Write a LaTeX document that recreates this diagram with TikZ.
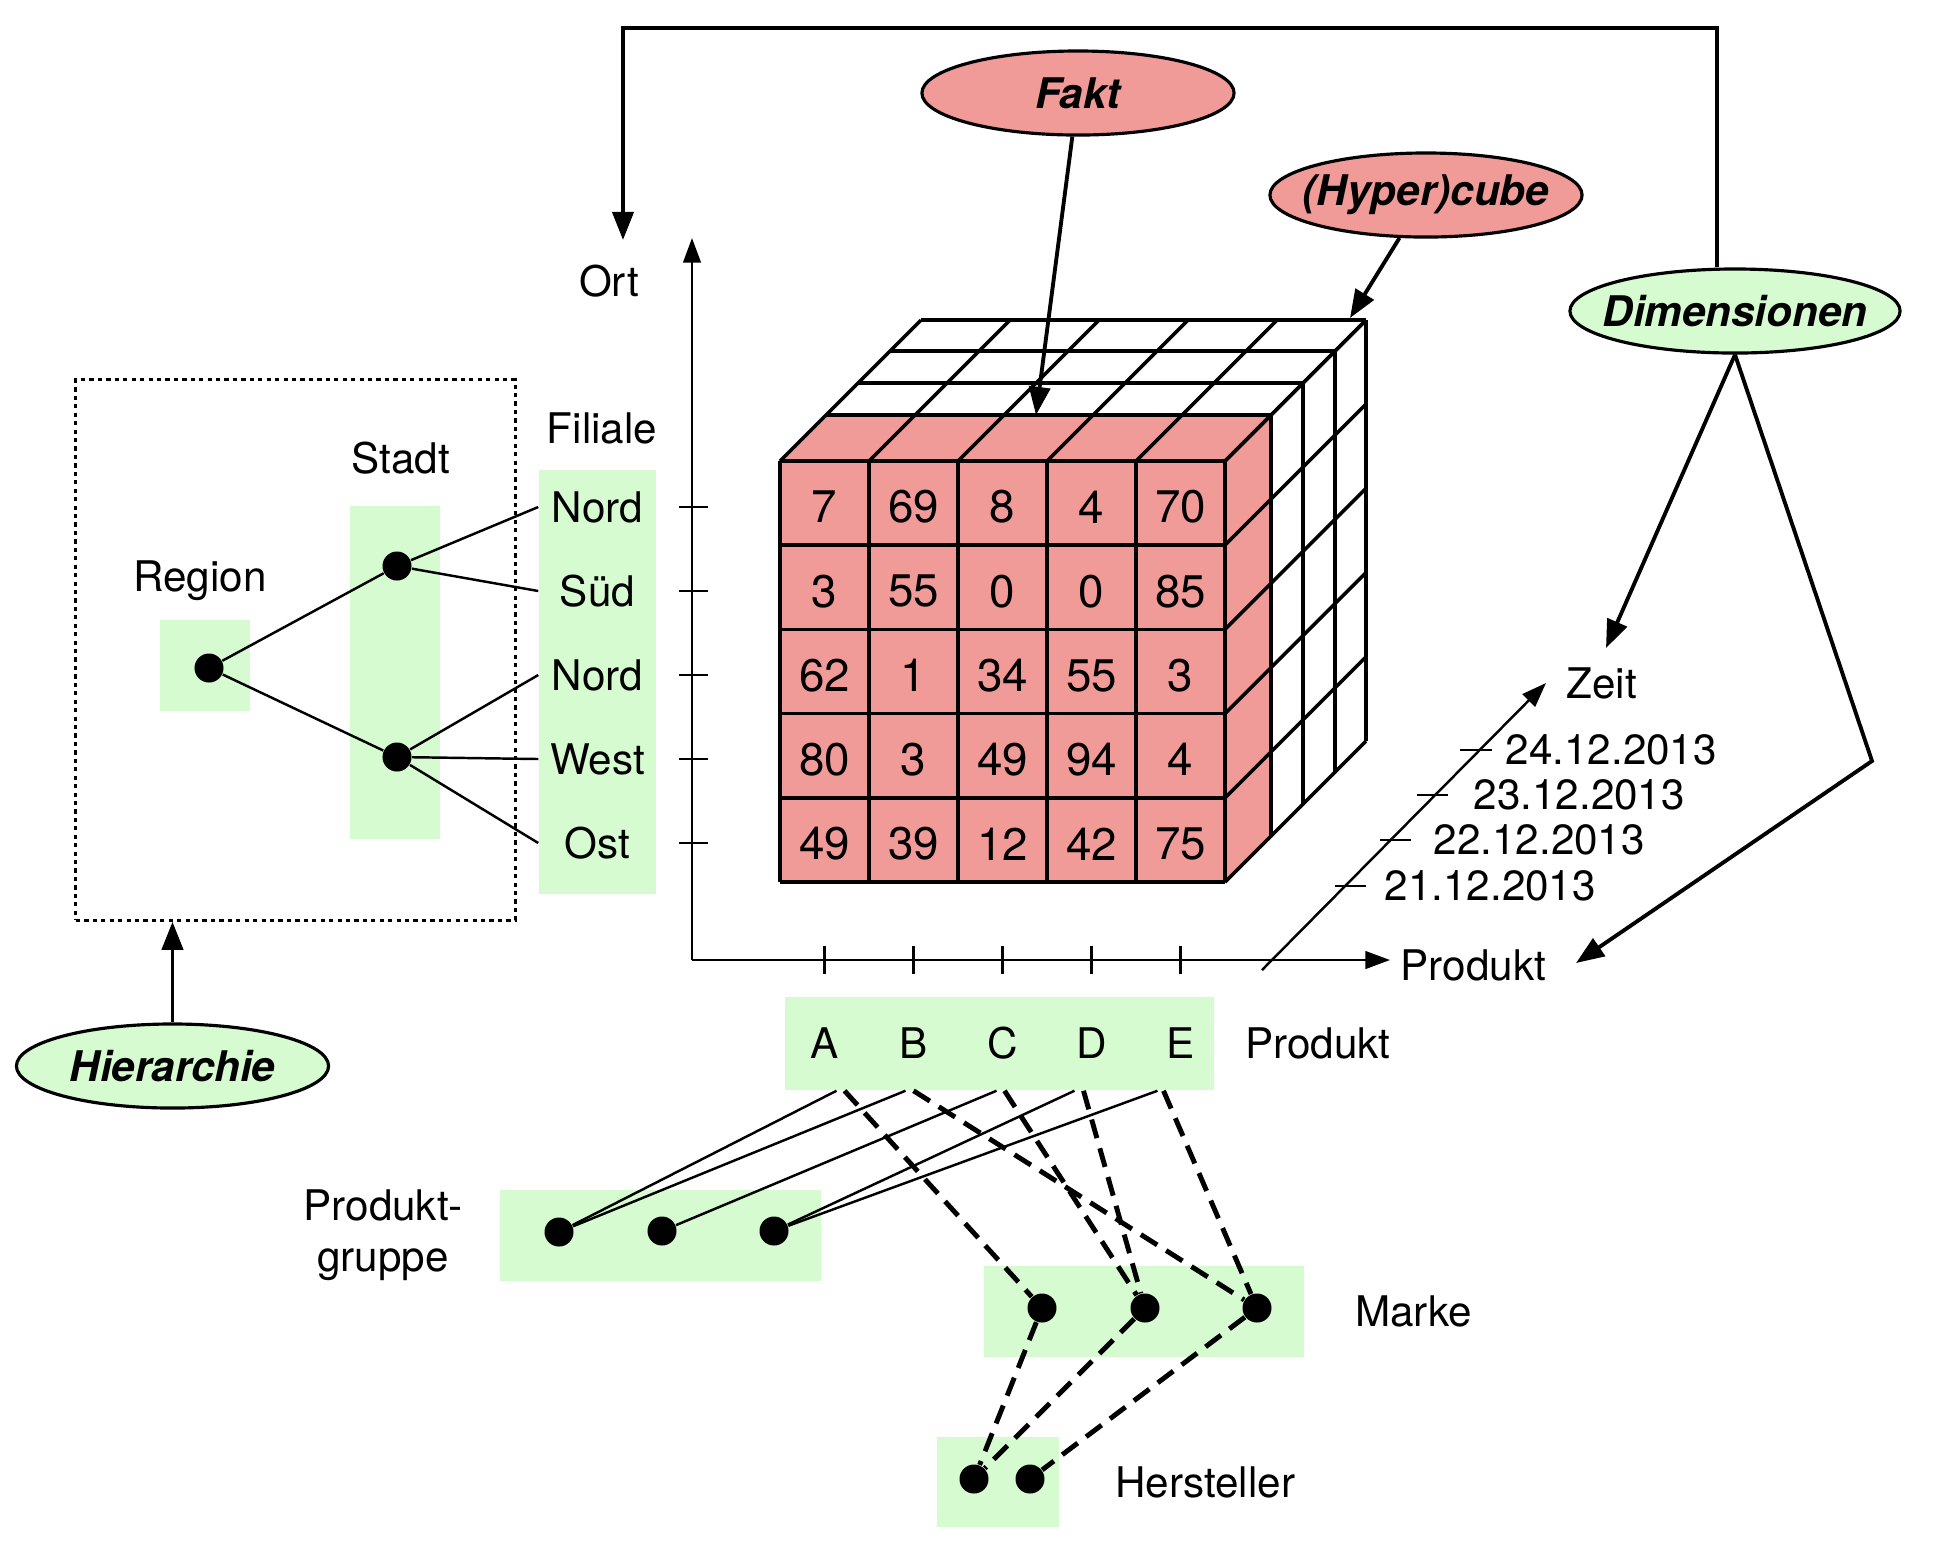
\documentclass[tikz,border=0pt]{standalone}
\usepackage{fontspec}
\setmainfont{TeX Gyre Heros}
\usepackage{tikz}
\usetikzlibrary{shapes.geometric,arrows.meta,positioning}

\definecolor{faktrot}{RGB}{241,155,153}
\definecolor{dimgruen}{RGB}{214,251,208}

\begin{document}
\begin{tikzpicture}[x=0.01cm, y=-0.01cm,
  font=\fontsize{12}{14.5}\selectfont,
  concept/.style={ellipse, draw, line width=0.9pt, inner xsep=-0.2cm, inner ysep=0pt, minimum width=3.12cm, minimum height=0.84cm, font=\fontsize{12}{14.5}\selectfont\bfseries\itshape},
  fakt/.style={concept, fill=faktrot},
  dimension/.style={concept, fill=dimgruen},
  greenbox/.style={rectangle, fill=dimgruen, inner sep=0pt},
  dot/.style={circle, fill, inner sep=0pt, minimum size=0.29cm},
  filiale/.style={rectangle, minimum width=1.17cm, inner sep=0pt},
  buchstabe/.style={rectangle, minimum height=0.93cm, inner sep=0pt},
  cellnum/.style={font=\fontsize{13}{15}\selectfont},
  datum/.style={anchor=west, inner sep=0pt},
  arrow/.style={-{Triangle[length=8pt,width=6pt]}, line width=1.1pt},
  axis/.style={-{Triangle[length=7pt,width=5pt]}, line width=0.7pt},
  cubeline/.style={line width=1pt},
  thinline/.style={line width=0.7pt},
  dashline/.style={line width=1.4pt, dash pattern=on 5.5pt off 3pt}]

\useasboundingbox (0,0) rectangle (1960,1544);

% green boxes
\node[greenbox, minimum width=0.9cm, minimum height=0.91cm] (regionbox) at (205,665.5) {};
\node[greenbox, minimum width=0.9cm, minimum height=3.33cm] (stadtbox) at (395,672.5) {};
\node[greenbox, minimum width=1.17cm, minimum height=4.24cm] (filialbox) at (597.5,682) {};
\node[greenbox, minimum width=4.29cm, minimum height=0.93cm] (produktbox) at (999.5,1043.5) {};
\node[greenbox, minimum width=3.21cm, minimum height=0.91cm] (gruppebox) at (660.5,1235.5) {};
\node[greenbox, minimum width=3.2cm, minimum height=0.91cm] (markebox) at (1144,1311.5) {};
\node[greenbox, minimum width=1.22cm, minimum height=0.9cm] (herstellerbox) at (998,1482) {};

% cube
\fill[faktrot] (780,882) -- (780,461) -- (826,415) -- (1271,415) -- (1271,836) -- (1225,882) -- cycle;
\foreach \x in {780,869,958,1047,1136,1225} {
  \draw[cubeline] (\x,461) -- (\x,882);
  \draw[cubeline] (\x,461) -- ++(141,-141);
}
\foreach \y in {461,545.2,629.4,713.6,797.8,882} {
  \draw[cubeline] (780,\y) -- (1225,\y);
  \draw[cubeline] (1225,\y) -- ++(141,-141);
}
\foreach \d in {46,78,110,141} {
  \draw[cubeline] (780+\d,461-\d) -- (1225+\d,461-\d);
  \draw[cubeline] (1225+\d,461-\d) -- (1225+\d,882-\d);
}
\foreach \zeile [count=\j] in {{7,69,8,4,70},{3,55,0,0,85},{62,1,34,55,3},{80,3,49,94,4},{49,39,12,42,75}} {
  \foreach \wert [count=\i] in \zeile
    \node[cellnum] (c\j\i) at ({780+89*(\i-0.5)},{465+84.2*(\j-0.5)}) {\wert};
}

% axes
\coordinate (origin) at (692,960);
\coordinate (ortende) at (692,238);
\coordinate (produktende) at (1390,960);
\coordinate (zeitstart) at (1262,970);
\coordinate (zeitende) at (1546,683);
\draw[axis] (origin) -- (ortende);
\draw[axis] (origin) -- (produktende);
\draw[axis] (zeitstart) -- (zeitende);
\foreach \y in {507,591,675,759,843} \draw[thinline] (679,\y) -- (708,\y);
\foreach \x in {824.5,913.5,1002.5,1091.5,1180.5} \draw[thinline] (\x,946) -- (\x,974);

\node (ort) at (609,281) {Ort};
\node[right=0.1cm of produktende, yshift=-0.05cm, inner sep=0pt] (produktachse) {Produkt};
\node[right=0.2cm of zeitende, inner sep=0pt] (zeit) {Zeit};

\node[datum] (d24) at (1505,750) {24.12.2013};
\node[datum] (d23) at (1473,795) {23.12.2013};
\node[datum] (d22) at (1433,840) {22.12.2013};
\node[datum] (d21) at (1384,886) {21.12.2013};
\draw[thinline] (1460,750) -- (1492,750);
\draw[thinline] (1417,795) -- (1448,795);
\draw[thinline] (1380,840) -- (1411,840);
\draw[thinline] (1335,886) -- (1366,886);

% concepts
\node[fakt] (fakt) at (1078,93) {Fakt};
\node[fakt] (hypercube) at (1426,195) {(Hyper)cube};
\node[dimension, minimum width=3.3cm] (dimensionen) at (1735,311) {Dimensionen};
\node[dimension] (hierarchie) at (172.5,1066) {Hierarchie};

\coordinate (faktziel) at (1036,415);
\coordinate (cubeziel) at (1350,318);
\coordinate (ortpfeil) at (623,240);
\coordinate (zeitpfeil) at (1606,648);
\coordinate (knick) at (1872,761);
\coordinate (produktpfeil) at (1576,963);
\draw[arrow] (fakt) -- (faktziel);
\draw[arrow] (hypercube) -- (cubeziel);
\draw[arrow] ([xshift=-0.18cm]dimensionen.north) |- (623,28) -- (ortpfeil);
\draw[arrow] (dimensionen.south) -- (zeitpfeil);
\draw[arrow] (dimensionen.south) -- (knick) -- (produktpfeil);

% hierarchy Ort
\node[draw, dash pattern=on 1.2pt off 1.2pt, line width=0.9pt, minimum width=4.39cm, minimum height=5.4cm, inner sep=0pt] (hierbox) at (295.5,650) {};
\draw[arrow] (hierarchie.north) -- (hierarchie.north |- hierbox.south);

\node (regionlabel) at (200,581) {Region};
\node (stadtlabel) at (401,458) {Stadt};
\node (filiallabel) at (602,428) {Filiale};

\node[dot] (regiondot) at (209,668) {};
\node[dot] (stadtdot1) at (397,566) {};
\node[dot] (stadtdot2) at (397,757) {};
\node[filiale] (nord1) at (597.5,507) {Nord};
\node[filiale] (sued) at (597.5,591) {Süd};
\node[filiale] (nord2) at (597.5,675) {Nord};
\node[filiale] (west) at (597.5,759) {West};
\node[filiale] (ost) at (597.5,843) {Ost};

\draw[thinline] (regiondot) -- (stadtdot1);
\draw[thinline] (regiondot) -- (stadtdot2);
\draw[thinline] (stadtdot1) -- (nord1.west);
\draw[thinline] (stadtdot1) -- (sued.west);
\draw[thinline] (stadtdot2) -- (nord2.west);
\draw[thinline] (stadtdot2) -- (west.west);
\draw[thinline] (stadtdot2) -- (ost.west);

% hierarchy Produkt
\node[buchstabe] (pa) at (824.5,1043.5) {A};
\node[buchstabe] (pb) at (913.5,1043.5) {B};
\node[buchstabe] (pc) at (1002.5,1043.5) {C};
\node[buchstabe] (pd) at (1091.5,1043.5) {D};
\node[buchstabe] (pe) at (1180.5,1043.5) {E};

\node[dot] (g1) at (559,1232) {};
\node[dot] (g2) at (662,1231) {};
\node[dot] (g3) at (774,1231) {};
\node[dot] (m1) at (1042,1308) {};
\node[dot] (m2) at (1145,1308) {};
\node[dot] (m3) at (1257,1308) {};
\node[dot] (h1) at (974,1479) {};
\node[dot] (h2) at (1030,1479) {};

\node[right=0.18cm of produktbox] (produktlabel) {Produkt};
\node[left=0.24cm of gruppebox, align=center] (gruppelabel) {Produkt-\\gruppe};
\node[right=0.38cm of markebox] (markelabel) {Marke};
\node[right=0.43cm of herstellerbox] (herstellerlabel) {Hersteller};

\draw[thinline] ([xshift=0.12cm]pa.south) -- (g1);
\draw[thinline] ([xshift=-0.08cm]pb.south) -- (g1);
\draw[thinline] ([xshift=-0.06cm]pc.south) -- (g2);
\draw[thinline] ([xshift=-0.17cm]pd.south) -- (g3);
\draw[thinline] ([xshift=-0.23cm]pe.south) -- (g3);

\draw[dashline] ([xshift=0.2cm]pa.south) -- (m1);
\draw[dashline] (pb.south) -- (m3);
\draw[dashline] ([xshift=0.02cm]pc.south) -- (m2);
\draw[dashline] ([xshift=-0.08cm]pd.south) -- (m2);
\draw[dashline] ([xshift=-0.17cm]pe.south) -- (m3);
\draw[dashline] (m1) -- (h1);
\draw[dashline] (m2) -- (h1);
\draw[dashline] (m3) -- (h2);
\end{tikzpicture}
\end{document}
